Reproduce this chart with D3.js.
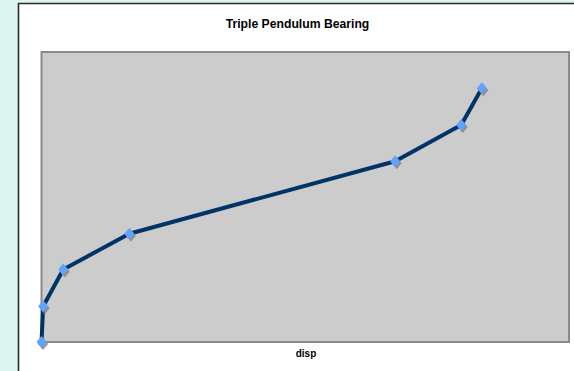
<!DOCTYPE html>
<html>
<head>
<meta charset="utf-8">
<script src="https://cdn.jsdelivr.net/npm/d3@7"></script>
<style>
  html, body { margin: 0; padding: 0; background: #ddf4f0; }
  svg { display: block; }
</style>
</head>
<body>
<svg id="chart" width="574" height="371"></svg>
<script>
// Force–displacement backbone of a triple pendulum bearing
const disp  = [0, 0.08, 1.03, 4.16, 16.76, 19.89, 20.87];
const force = [0, 0.037, 0.075, 0.112, 0.187, 0.2245, 0.2625];
const chartTitle = "Triple Pendulum Bearing";
const xTitle = "disp";

const svg = d3.select("#chart");
const W = 574, H = 371;

// chart frame (white card with dark left/top edge)
svg.append("rect").attr("x", 18).attr("y", 3).attr("width", W - 18).attr("height", H - 3)
  .attr("fill", "#ffffff");
svg.append("path").attr("d", `M18.5,${H} V3.5 H${W}`)
  .attr("fill", "none").attr("stroke", "#2a2a2a").attr("stroke-width", 1.6);

const plot = { left: 41.5, top: 52, right: 569, bottom: 342 };

const x = d3.scaleLinear().domain([0, 25]).range([plot.left, plot.right]);
const y = d3.scaleLinear().domain([0, 0.3]).range([plot.bottom, plot.top]);

// plot area
svg.append("rect")
  .attr("x", plot.left).attr("y", plot.top)
  .attr("width", plot.right - plot.left).attr("height", plot.bottom - plot.top)
  .attr("fill", "#cccccc").attr("stroke", "#8a8a8a").attr("stroke-width", 2);

// title
svg.append("text")
  .attr("x", 297.5).attr("y", 28)
  .attr("text-anchor", "middle")
  .attr("font-family", "Liberation Sans, Arial, sans-serif")
  .attr("font-weight", "bold").attr("font-size", 12.2)
  .attr("fill", "#000")
  .text(chartTitle);

// x-axis title
svg.append("text")
  .attr("x", 306).attr("y", 357)
  .attr("text-anchor", "middle")
  .attr("font-family", "Liberation Sans, Arial, sans-serif")
  .attr("font-weight", "bold").attr("font-size", 10)
  .attr("fill", "#000")
  .text(xTitle);

const pts = disp.map((d, i) => [d, force[i]]);

const line = d3.line().x(d => x(d[0])).y(d => y(d[1]));
svg.append("path")
  .datum(pts)
  .attr("d", line)
  .attr("fill", "none")
  .attr("stroke", "#003366")
  .attr("stroke-width", 4)
  .attr("stroke-linejoin", "round");

// diamond markers with a soft drop shadow
const diamond = "M0,-6 L5,0 L0,6 L-5,0 Z";
const marks = svg.append("g");
marks.selectAll("path.shadow").data(pts).enter().append("path")
  .attr("class", "shadow")
  .attr("d", diamond)
  .attr("transform", d => `translate(${x(d[0]) + 1.5},${y(d[1]) + 2})`)
  .attr("fill", "#808080").attr("opacity", 0.8);
marks.selectAll("path.mark").data(pts).enter().append("path")
  .attr("class", "mark")
  .attr("d", diamond)
  .attr("transform", d => `translate(${x(d[0])},${y(d[1])})`)
  .attr("fill", "#5fa3ff");
</script>
</body>
</html>
